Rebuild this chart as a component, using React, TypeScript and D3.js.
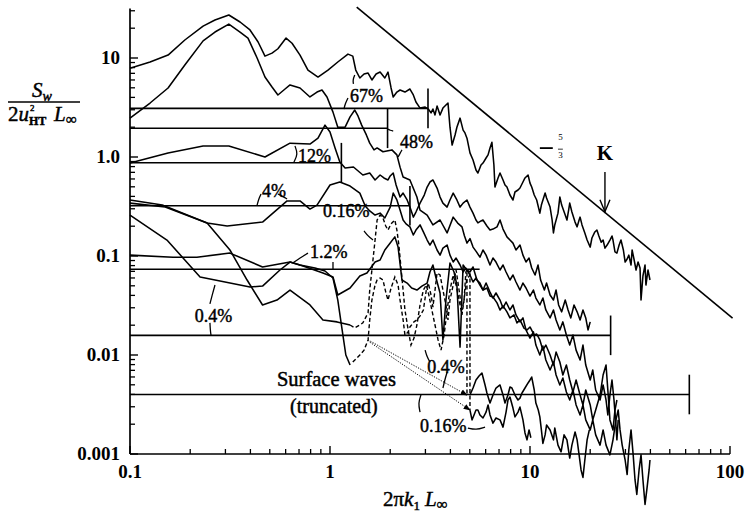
import React from "react";
import * as d3 from "d3";

type P = [number, number];

// ---------- axes ----------
const xTickValues = [0.1, 1, 10, 100];
const xTickLabels = ["0.1", "1", "10", "100"];
const yTickValues = [0.001, 0.01, 0.1, 1, 10];
const yTickLabels = ["0.001", "0.01", "0.1", "1.0", "10"];
const yAxisTop = 31.6;

// ---------- noise-level bars ----------
const levelValues = [3.1, 1.95, 0.876, 0.322, 0.0734, 0.0158, 0.00399];
const levelEnds = [3.09, 1.94, 1.14, 2.51, 5.6, 25.3, 62.6];
const levelHasBar = [true, true, true, true, false, true, true];

// ---------- spectra ----------
const spec67: P[] = [
  [0.1, 7.9], [0.126, 9.1], [0.155, 10.7], [0.188, 15.2], [0.232, 21.0], [0.266, 24.2], [0.312, 27.2],
  [0.355, 23.1], [0.398, 19.2], [0.437, 14.5], [0.473, 10.45], [0.513, 11.2], [0.549, 12.4], [0.603, 15.9],
  [0.646, 14.1], [0.708, 10.7], [0.776, 7.56], [0.871, 6.42], [0.977, 7.56], [1.094, 9.11], [1.23, 10.95],
  [1.30, 10.45], [1.345, 7.56], [1.41, 6.28], [1.48, 6.89], [1.55, 7.05], [1.62, 6.0], [1.70, 6.89],
  [1.78, 7.21], [1.88, 6.28], [1.95, 7.21], [2.02, 4.98], [2.07, 4.04], [2.16, 4.53], [2.24, 4.75],
  [2.37, 4.53], [2.51, 4.86], [2.61, 4.23], [2.69, 3.59], [2.82, 3.12], [2.99, 3.19], [3.10, 3.05],
  [3.20, 2.79], [3.27, 3.05], [3.35, 2.66], [3.43, 3.27], [3.55, 2.66], [3.67, 3.12], [3.80, 3.35],
  [3.89, 3.51], [3.98, 2.0], [4.08, 1.32], [4.22, 1.67], [4.31, 2.0], [4.47, 2.47], [4.63, 1.87],
  [4.73, 1.75], [4.84, 1.55], [5.01, 1.10], [5.19, 0.933], [5.37, 0.739], [5.49, 0.689], [5.69, 0.830],
  [5.82, 0.869], [6.03, 0.977], [6.17, 1.05], [6.31, 1.235], [6.45, 1.41], [6.60, 0.830], [6.68, 0.497],
  [6.92, 0.614], [7.08, 0.689], [7.33, 0.586], [7.50, 0.521], [7.67, 0.497], [7.94, 0.413], [8.22, 0.368],
  [8.41, 0.443], [8.71, 0.464], [8.91, 0.486], [9.22, 0.559], [9.44, 0.614], [9.78, 0.658], [10, 0.545],
  [10.2, 0.497], [10.5, 0.413], [10.8, 0.368], [11.2, 0.271], [11.4, 0.327], [11.9, 0.432], [12.1, 0.385],
  [12.6, 0.312], [12.9, 0.231], [13.1, 0.171], [13.3, 0.206], [13.8, 0.271], [14.1, 0.394], [14.4, 0.327],
  [15.0, 0.259], [15.3, 0.231], [15.6, 0.291], [15.8, 0.342], [16.2, 0.278], [16.8, 0.220], [17.2, 0.197],
  [17.6, 0.231], [17.8, 0.247], [18.2, 0.206], [18.8, 0.171], [19.3, 0.145], [20.0, 0.123], [20.4, 0.152],
  [21.1, 0.175], [21.6, 0.183], [22.1, 0.159], [22.7, 0.138], [23.2, 0.145], [23.7, 0.120], [24.3, 0.129],
  [25.1, 0.145], [25.7, 0.159], [26.0, 0.145], [26.6, 0.110], [27.2, 0.107], [27.9, 0.129], [28.5, 0.145],
  [29.3, 0.115], [29.9, 0.0869], [30.6, 0.0933], [31.2, 0.102], [32.0, 0.0811], [32.4, 0.115], [33.1, 0.0933],
  [33.9, 0.0722], [34.7, 0.0869], [35.5, 0.0756], [35.9, 0.0359], [36.7, 0.0628], [37.6, 0.0811],
  [38.0, 0.0509], [38.9, 0.0722], [39.8, 0.0572],
];

const spec48: P[] = [
  [0.1, 2.47], [0.126, 3.51], [0.155, 4.98], [0.188, 8.50], [0.232, 14.9], [0.266, 18.3], [0.312, 22.0],
  [0.355, 18.3], [0.389, 15.9], [0.432, 10.0], [0.473, 6.42], [0.513, 5.09], [0.549, 4.23], [0.596, 4.86],
  [0.631, 5.34], [0.708, 4.98], [0.794, 4.04], [0.861, 4.53], [0.912, 4.75], [0.966, 4.04], [1.035, 2.84],
  [1.094, 2.0], [1.19, 2.0], [1.26, 2.54], [1.33, 2.98], [1.38, 2.60], [1.44, 2.10], [1.52, 1.67],
  [1.58, 1.38], [1.66, 1.18], [1.72, 1.235], [1.84, 1.13], [2.04, 1.18], [2.16, 1.05], [2.24, 0.79],
  [2.32, 0.628], [2.51, 0.586], [2.72, 0.394], [2.82, 0.291], [3.06, 0.259], [3.27, 0.206], [3.55, 0.231],
  [3.85, 0.171], [4.13, 0.247], [4.35, 0.215], [4.57, 0.197], [4.70, 0.160], [4.84, 0.135], [5.01, 0.150],
  [5.19, 0.123], [5.40, 0.110], [5.62, 0.0973], [5.82, 0.115], [6.03, 0.102], [6.31, 0.0811], [6.53, 0.0954],
  [6.76, 0.0869], [7.08, 0.0722], [7.33, 0.0811], [7.59, 0.0689], [7.94, 0.0572], [8.22, 0.0643],
  [8.51, 0.0546], [8.91, 0.0453], [9.22, 0.0533], [9.55, 0.0475], [10, 0.0394], [10.4, 0.0453],
  [10.7, 0.0376], [11.2, 0.0320], [11.6, 0.0376], [12.0, 0.0285], [12.6, 0.0237], [13.1, 0.0285],
  [13.5, 0.0226], [14.1, 0.0179], [14.6, 0.0216], [15.2, 0.0159], [15.8, 0.0126], [16.4, 0.0159],
  [17.0, 0.0112], [17.8, 0.0089], [18.4, 0.0126], [19.0, 0.00792], [20.0, 0.00559], [20.6, 0.00705],
  [21.3, 0.00443], [22.4, 0.00351], [23.2, 0.00498], [24.0, 0.00351], [24.5, 0.00248], [25.1, 0.00394],
  [25.7, 0.00559], [26.3, 0.00351], [26.9, 0.00196], [27.2, 0.00139], [27.6, 0.00221],
];

const spec12: P[] = [
  [0.1, 0.869], [0.155, 1.10], [0.232, 1.29], [0.312, 1.29], [0.473, 1.0], [0.631, 1.38], [0.794, 1.35],
  [0.871, 1.55], [0.944, 2.10], [1, 1.79], [1.06, 1.235], [1.12, 0.89], [1.19, 0.774], [1.31, 0.793],
  [1.46, 0.658], [1.58, 0.689], [1.68, 0.586], [1.78, 0.658], [1.86, 0.614], [1.95, 0.586], [2.0, 0.643],
  [2.07, 0.689], [2.14, 0.521], [2.24, 0.394], [2.32, 0.432], [2.43, 0.368], [2.51, 0.312], [2.61, 0.247],
  [2.69, 0.278], [2.82, 0.342], [2.96, 0.413], [3.06, 0.497], [3.16, 0.559], [3.27, 0.586], [3.43, 0.486],
  [3.55, 0.394], [3.67, 0.342], [3.85, 0.312], [3.98, 0.368], [4.13, 0.432], [4.31, 0.368], [4.47, 0.312],
  [4.63, 0.342], [4.84, 0.368], [5.01, 0.312], [5.19, 0.271], [5.37, 0.231], [5.49, 0.216], [5.69, 0.226],
  [5.82, 0.231], [6.09, 0.201], [6.31, 0.183], [6.53, 0.187], [6.84, 0.197], [7.08, 0.231], [7.33, 0.187],
  [7.67, 0.156], [7.94, 0.145], [8.22, 0.135], [8.51, 0.115], [8.91, 0.129], [9.22, 0.102], [9.55, 0.0869],
  [9.89, 0.0954], [10.2, 0.0756], [10.6, 0.0643], [10.97, 0.0811], [11.3, 0.0572], [11.8, 0.0453],
  [12.1, 0.0533], [12.6, 0.0404], [13.1, 0.0359], [13.5, 0.0453], [13.9, 0.0320], [14.4, 0.0273],
  [15.0, 0.0359], [15.5, 0.0285], [16.0, 0.0237], [16.6, 0.0320], [17.2, 0.0273], [17.8, 0.0226],
  [18.4, 0.0285], [19.0, 0.0237], [19.5, 0.0179], [20.0, 0.0216],
];

const spec4: P[] = [
  [0.1, 0.368], [0.145, 0.327], [0.243, 0.215], [0.306, 0.201], [0.460, 0.220], [0.610, 0.360], [0.708, 0.360],
  [0.794, 0.298], [0.861, 0.327], [1, 0.521], [1.12, 0.559], [1.26, 0.509], [1.41, 0.432], [1.50, 0.320],
  [1.58, 0.285], [1.68, 0.259], [1.78, 0.271], [1.88, 0.242], [2.0, 0.312], [2.07, 0.432], [2.16, 0.368],
  [2.24, 0.291], [2.32, 0.231], [2.40, 0.211], [2.51, 0.197], [2.61, 0.163], [2.69, 0.183], [2.82, 0.206],
  [2.93, 0.175], [3.06, 0.145], [3.16, 0.129], [3.27, 0.145], [3.43, 0.115], [3.55, 0.102], [3.67, 0.120],
  [3.85, 0.129], [3.98, 0.102], [4.13, 0.0869], [4.27, 0.0954], [4.47, 0.0811], [4.63, 0.0689],
  [4.78, 0.0756], [5.01, 0.0643], [5.19, 0.0546], [5.37, 0.0599], [5.62, 0.0509], [5.82, 0.0453],
  [6.03, 0.0533], [6.31, 0.0432], [6.53, 0.0376], [6.76, 0.0423], [7.08, 0.0359], [7.33, 0.0298],
  [7.59, 0.0343], [7.94, 0.0285], [8.22, 0.0320], [8.51, 0.0254], [8.91, 0.0216], [9.22, 0.0237],
  [9.55, 0.0179], [10, 0.0148], [10.4, 0.0171], [10.7, 0.0126], [11.2, 0.0100], [11.6, 0.0123],
  [12.0, 0.0089], [12.6, 0.00705], [13.1, 0.0085], [13.5, 0.00628], [14.1, 0.00498], [14.6, 0.00585],
  [15.2, 0.00423], [15.8, 0.00351], [16.4, 0.00443], [17.0, 0.00313], [17.8, 0.00248], [18.4, 0.00313],
  [19.0, 0.00221], [20.0, 0.00175], [20.6, 0.00221], [21.3, 0.00156], [22.4, 0.00123], [23.2, 0.00175],
  [24.0, 0.00123], [25.1, 0.00098], [26.0, 0.00139], [26.9, 0.00221], [27.6, 0.00278], [28.2, 0.00175],
  [28.9, 0.00123], [29.9, 0.00087], [30.6, 0.00062], [31.2, 0.00110], [32.0, 0.00175], [32.8, 0.00098],
  [33.5, 0.00055], [34.2, 0.00039], [35.1, 0.00069], [35.9, 0.00098], [36.7, 0.00055], [37.6, 0.00031],
  [38.4, 0.00044], [39.4, 0.00069], [39.8, 0.00087],
];

const spec1p2: P[] = [
  [0.1, 0.102], [0.164, 0.0973], [0.216, 0.0973], [0.316, 0.107], [0.460, 0.0775], [0.631, 0.0869],
  [0.733, 0.0792], [0.922, 0.0674], [1.035, 0.0614], [1.094, 0.0404], [1.26, 0.0475], [1.41, 0.0628],
  [1.53, 0.0674], [1.68, 0.0869], [1.78, 0.0911], [1.88, 0.115], [2.0, 0.135], [2.11, 0.156], [2.19, 0.123],
  [2.29, 0.0572], [2.43, 0.0533], [2.56, 0.0475], [2.72, 0.0453], [2.88, 0.0497], [3.06, 0.0533],
  [3.16, 0.0689], [3.27, 0.0811], [3.39, 0.0599], [3.55, 0.0423], [3.67, 0.0142], [3.80, 0.0359],
  [3.98, 0.0849], [4.17, 0.0689], [4.31, 0.0509], [4.47, 0.0120], [4.63, 0.0811], [4.82, 0.0722],
  [5.01, 0.0689], [5.19, 0.0775], [5.43, 0.0572], [5.62, 0.0533], [5.82, 0.0453], [6.09, 0.0475],
  [6.31, 0.0394], [6.53, 0.0385], [6.84, 0.0336], [7.08, 0.0285], [7.33, 0.0313], [7.67, 0.0273],
  [7.94, 0.0237], [8.32, 0.0254], [8.61, 0.0211], [8.91, 0.0226], [9.33, 0.0187], [9.66, 0.0179],
  [10, 0.0192], [10.5, 0.0159], [10.8, 0.0163], [11.2, 0.0142], [11.6, 0.0112], [12.0, 0.0126],
  [12.6, 0.0100], [13.1, 0.00792], [13.5, 0.0107], [14.1, 0.0085], [14.6, 0.00628], [15.2, 0.00792],
  [15.8, 0.00559], [16.4, 0.00423], [17.0, 0.00559], [17.8, 0.00394], [18.4, 0.00313], [19.0, 0.00443],
  [20.0, 0.00313], [20.6, 0.00221], [21.3, 0.00278], [22.4, 0.00394], [23.2, 0.00628], [24.0, 0.00792],
  [24.5, 0.00443], [25.1, 0.00221], [26.0, 0.00175], [26.6, 0.00278], [27.2, 0.00351],
];

const spec0p4: P[] = [
  [0.1, 0.259], [0.153, 0.145], [0.224, 0.0614], [0.398, 0.0486], [0.460, 0.0497], [0.562, 0.0722],
  [0.631, 0.0869], [0.708, 0.0811], [0.841, 0.0756], [0.944, 0.0706], [1.035, 0.0599], [1.094, 0.0359],
  [1.15, 0.0179], [1.20, 0.0100], [1.26, 0.00792],
];
const spec0p4Dashed: P[] = [
  [1.30, 0.0085], [1.41, 0.0100], [1.48, 0.0112], [1.55, 0.0142], [1.58, 0.0226], [1.62, 0.0359],
  [1.68, 0.0509], [1.72, 0.0572], [1.78, 0.0599], [1.84, 0.0572], [1.90, 0.0432], [1.95, 0.0359],
  [2.02, 0.0475], [2.11, 0.0614], [2.19, 0.0509], [2.24, 0.0359], [2.32, 0.0226], [2.37, 0.0159],
  [2.46, 0.0171], [2.51, 0.0192], [2.63, 0.0216], [2.72, 0.0226], [2.82, 0.0248], [2.93, 0.0285],
  [3.03, 0.0453], [3.10, 0.0533], [3.20, 0.0404], [3.27, 0.0305], [3.35, 0.0453], [3.43, 0.0674],
  [3.55, 0.0643], [3.67, 0.0453], [3.80, 0.0320], [3.89, 0.0226], [3.98, 0.0359], [4.13, 0.0509],
  [4.27, 0.0722], [4.42, 0.0453], [4.57, 0.0285], [4.68, 0.0359], [4.78, 0.0689], [4.84, 0.0722],
  [4.84, 0.00394],
];
const spec0p4Tail: P[] = [
  [5.01, 0.00394], [5.19, 0.00464], [5.37, 0.00559], [5.56, 0.00613], [5.75, 0.00658], [5.96, 0.00498],
  [6.09, 0.00413], [6.31, 0.00327], [6.53, 0.00394], [6.76, 0.00464], [7.08, 0.00498], [7.33, 0.00394],
  [7.50, 0.00327], [7.76, 0.00394], [7.94, 0.00475], [8.12, 0.00464], [8.41, 0.00394], [8.71, 0.00351],
  [8.91, 0.00367], [9.12, 0.00413], [9.44, 0.00464], [9.78, 0.00522], [10, 0.00559], [10.2, 0.00599],
  [10.5, 0.00443], [10.7, 0.00327], [11.0, 0.00278], [11.2, 0.00237], [11.4, 0.00175], [11.6, 0.00128],
  [11.9, 0.00156], [12.1, 0.00196], [12.6, 0.00175], [13.1, 0.00139], [13.3, 0.00183], [13.8, 0.00123],
  [14.3, 0.00105], [14.8, 0.00156], [15.3, 0.00139], [15.8, 0.00091], [16.2, 0.00123], [16.8, 0.00167],
  [17.2, 0.00139], [17.6, 0.00098], [18.0, 0.00069], [18.4, 0.00058], [18.8, 0.00087], [19.3, 0.00139],
  [19.8, 0.00175],
];

const spec0p16: P[] = [
  [0.1, 0.342], [0.150, 0.312], [0.243, 0.215], [0.316, 0.115], [0.385, 0.0572], [0.460, 0.0320],
  [0.543, 0.0359], [0.631, 0.0453], [0.794, 0.0320], [0.922, 0.0226], [1.085, 0.0216], [1.26, 0.0201],
];
const spec0p16Dashed: P[] = [
  [1.26, 0.0201], [1.33, 0.0188], [1.41, 0.0201], [1.46, 0.0211], [1.55, 0.0266], [1.58, 0.0453],
  [1.62, 0.0722], [1.68, 0.145], [1.72, 0.231], [1.78, 0.259], [1.84, 0.242], [1.90, 0.201], [1.95, 0.183],
  [2.02, 0.211], [2.11, 0.231], [2.16, 0.183], [2.21, 0.129], [2.27, 0.0722], [2.32, 0.0453], [2.37, 0.0285],
  [2.46, 0.0179], [2.54, 0.0126], [2.63, 0.0148], [2.72, 0.0201], [2.82, 0.0320], [2.93, 0.0453],
  [3.03, 0.0509], [3.12, 0.0404], [3.23, 0.0285], [3.35, 0.0201], [3.47, 0.0142], [3.59, 0.0112],
  [3.72, 0.0159], [3.85, 0.0285], [3.98, 0.0453], [4.13, 0.0643], [4.27, 0.0509], [4.42, 0.0359],
  [4.57, 0.0254], [4.68, 0.0359], [4.82, 0.0572], [5.01, 0.0643], [5.01, 0.00278],
];
const spec0p16Tail: P[] = [
  [5.01, 0.00278], [5.13, 0.00221], [5.25, 0.00248], [5.37, 0.00278], [5.49, 0.00278], [5.62, 0.00248],
  [5.82, 0.00231], [6.03, 0.00265], [6.17, 0.00313], [6.31, 0.00248], [6.53, 0.00205], [6.76, 0.00231],
  [7.08, 0.00221], [7.33, 0.00187], [7.59, 0.00265], [7.76, 0.00351], [7.94, 0.00376], [8.22, 0.00291],
  [8.41, 0.00237], [8.71, 0.00265], [8.91, 0.00298], [9.22, 0.00221], [9.44, 0.00163], [9.66, 0.00139],
  [9.89, 0.00175], [10.1, 0.00146],
];

// surface-wave connectors (dotted)
const waveLinkUpper: P[] = [[1.55, 0.0142], [4.84, 0.00394]];
const waveLinkLower: P[] = [[1.58, 0.0135], [5.01, 0.00278]];

// -5/3 slope line
const slopeLine: P[] = [[1.36, 32.7], [103, 0.0236]];

// percentage labels
const labelTexts = ["67%", "48%", "12%", "4%", "0.16%", "1.2%", "0.4%", "0.4%", "0.16%"];
const labelX = [1.26, 2.24, 0.692, 0.457, 0.922, 0.794, 0.211, 3.06, 2.82];
const labelY = [3.59, 1.23, 0.89, 0.394, 0.247, 0.0954, 0.0216, 0.0066, 0.00167];

// label leader strokes
const leaders: P[][] = [
  [[1.175, 3.05], [1.19, 3.43], [1.23, 3.95]],
  [[1.31, 5.47], [1.30, 6.0], [1.33, 6.73]],
  [[1.95, 1.91], [2.0, 1.86], [2.07, 1.83]],
  [[2.29, 1.18], [2.24, 1.09], [2.19, 1.0]],
  [[0.668, 1.29], [0.692, 1.07], [0.660, 0.89]],
  [[0.432, 0.327], [0.442, 0.385], [0.452, 0.423]],
  [[0.549, 0.423], [0.58, 0.40], [0.610, 0.377]],
  [[1.48, 0.179], [1.55, 0.159], [1.64, 0.145]],
  [[0.776, 0.107], [0.708, 0.0954], [0.65, 0.0849]],
  [[1.035, 0.0869], [1.035, 0.0795], [1.035, 0.0722]],
  [[0.266, 0.0509], [0.26, 0.0432], [0.251, 0.0329]],
  [[0.251, 0.0211], [0.252, 0.018], [0.254, 0.0159]],
  [[2.99, 0.0112], [3.06, 0.0095], [3.16, 0.0085]],
  [[3.85, 0.0067], [3.75, 0.0056], [3.67, 0.00464]],
  [[2.85, 0.00394], [2.76, 0.00327], [2.82, 0.00265]],
  [[4.89, 0.00183], [5.37, 0.00175], [5.96, 0.00187]],
];

export default function App() {
  const x = d3.scaleLog().domain([0.1, 100]).range([130, 730]);
  const y = d3.scaleLog().domain([0.001, 10]).range([454, 58]);
  const line = d3.line<P>().x((d) => x(d[0])).y((d) => y(d[1]));
  const curvy = d3.line<P>().x((d) => x(d[0])).y((d) => y(d[1])).curve(d3.curveBasis);

  const xMinor: number[] = [];
  for (let e = -1; e < 2; e++) for (let k = 2; k <= 9; k++) xMinor.push(k * Math.pow(10, e));
  const yMinor: number[] = [];
  for (let e = -3; e <= 1; e++)
    for (let k = 2; k <= 9; k++) {
      const v = k * Math.pow(10, e);
      if (v <= yAxisTop) yMinor.push(v);
    }

  const serif = "'Liberation Serif', 'Times New Roman', serif";
  const solid = [spec67, spec48, spec12, spec4, spec1p2, spec0p4, spec0p4Tail, spec0p16, spec0p16Tail];
  const dashed = [spec0p4Dashed, spec0p16Dashed];
  const barHalf = Math.pow(10, 0.2);
  const ink = { stroke: "#000", strokeWidth: 0.45 };

  return (
    <svg width={745} height={516} style={{ position: "absolute", left: 0, top: 0, background: "#fff" }}
      fontFamily={serif}>
      <defs>
        <marker id="arr" viewBox="0 0 10 10" refX="9" refY="5" markerWidth="7" markerHeight="7" orient="auto">
          <path d="M0,1 L10,5 L0,9 Z" fill="#000" />
        </marker>
      </defs>
      <rect x={0} y={0} width={745} height={516} fill="#fff" />
      {/* axes */}
      <line x1={x(0.1)} x2={x(100)} y1={y(0.001)} y2={y(0.001)} stroke="#000" strokeWidth={1.7} />
      <line x1={x(0.1)} x2={x(0.1)} y1={y(0.001)} y2={y(yAxisTop)} stroke="#000" strokeWidth={1.7} />
      {xTickValues.map((v) => (
        <line key={"xM" + v} x1={x(v)} x2={x(v)} y1={y(0.001)} y2={y(0.001) - 8} stroke="#000" strokeWidth={1.4} />
      ))}
      {xMinor.map((v) => (
        <line key={"xm" + v} x1={x(v)} x2={x(v)} y1={y(0.001)} y2={y(0.001) - 5} stroke="#000" strokeWidth={1.3} />
      ))}
      {yTickValues.map((v) => (
        <line key={"yM" + v} x1={x(0.1)} x2={x(0.1) + 8} y1={y(v)} y2={y(v)} stroke="#000" strokeWidth={1.4} />
      ))}
      {yMinor.map((v) => (
        <line key={"ym" + v} x1={x(0.1)} x2={x(0.1) + 5} y1={y(v)} y2={y(v)} stroke="#000" strokeWidth={1.3} />
      ))}
      {xTickValues.map((v, i) => (
        <text key={"xl" + v} x={x(v)} y={y(0.001) + 24} textAnchor="middle" fontSize={19} fontWeight="bold">
          {xTickLabels[i]}
        </text>
      ))}
      {yTickValues.map((v, i) => (
        <text key={"yl" + v} x={x(0.1) - 10} y={y(v) + 6} textAnchor="end" fontSize={19} fontWeight="bold">
          {yTickLabels[i]}
        </text>
      ))}

      {/* noise-level bars */}
      {levelValues.map((v, i) => (
        <g key={"lv" + i}>
          <line x1={x(0.1)} x2={x(levelEnds[i])} y1={y(v)} y2={y(v)} stroke="#000" strokeWidth={1.6} />
          {levelHasBar[i] && (
            <line x1={x(levelEnds[i])} x2={x(levelEnds[i])} y1={y(v * barHalf)} y2={y(v / barHalf)}
              stroke="#000" strokeWidth={1.6} />
          )}
        </g>
      ))}

      {/* -5/3 line */}
      <path d={line(slopeLine) || ""} stroke="#000" strokeWidth={1.6} fill="none" />

      {/* spectra */}
      {solid.map((s, i) => (
        <path key={"s" + i} d={line(s) || ""} stroke="#000" strokeWidth={1.55} fill="none" strokeLinejoin="round" />
      ))}
      {dashed.map((s, i) => (
        <path key={"d" + i} d={line(s) || ""} stroke="#000" strokeWidth={1.4} fill="none" strokeDasharray="4 2.5" />
      ))}
      {[waveLinkUpper, waveLinkLower].map((s, i) => (
        <path key={"w" + i} d={line(s) || ""} stroke="#000" strokeWidth={1} fill="none" strokeDasharray="1.2 1.4"
          markerEnd="url(#arr)" />
      ))}

      {/* labels */}
      {labelTexts.map((t, i) => (
        <text key={"lab" + i} x={x(labelX[i])} y={y(labelY[i])} fontSize={18} {...ink}>
          {t}
        </text>
      ))}
      {leaders.map((s, i) => (
        <path key={"ld" + i} d={curvy(s) || ""} stroke="#000" strokeWidth={1.3} fill="none" />
      ))}
      <text x={x(0.543)} y={y(0.00487)} fontSize={20.5} {...ink}>Surface waves</text>
      <text x={x(0.631)} y={y(0.0026)} fontSize={20} {...ink}>(truncated)</text>

      {/* K arrow */}
      <text x={x(23.7)} y={y(0.933)} fontSize={21} fontWeight="bold" textAnchor="middle">K</text>
      <line x1={x(23.7)} x2={x(23.7)} y1={y(0.705)} y2={y(0.28)} stroke="#000" strokeWidth={1.4} />
      <path d={`M${x(23.7) - 5},${y(0.28) - 12} L${x(23.7)},${y(0.28)} L${x(23.7) + 5},${y(0.28) - 12}`}
        stroke="#000" strokeWidth={1.4} fill="none" />

      {/* -5/3 label */}
      <line x1={x(11.2)} x2={x(13.0)} y1={y(1.23)} y2={y(1.23)} stroke="#000" strokeWidth={1.8} />
      <text x={x(14.2)} y={y(1.48)} fontSize={9} textAnchor="middle">5</text>
      <line x1={x(13.8)} x2={x(14.6)} y1={y(1.2)} y2={y(1.2)} stroke="#000" strokeWidth={0.8} />
      <text x={x(14.2)} y={y(0.98)} fontSize={9} textAnchor="middle">3</text>

      {/* y-axis title */}
      <g fontSize={21} {...ink}>
        <text x={32} y={97} fontStyle="italic">S<tspan fontSize={14} dy={4}>w</tspan></text>
        <line x1={8} x2={80} y1={102} y2={102} stroke="#000" strokeWidth={1.4} />
        <text x={8} y={121}>
          2<tspan fontStyle="italic">u</tspan>
        </text>
        <text x={30} y={111} fontSize={9}>2</text>
        <text x={29} y={125} fontSize={12} fontWeight="bold">HT</text>
        <text x={54} y={121} fontStyle="italic">L</text>
        <text x={66} y={124} fontSize={15}>∞</text>
      </g>

      {/* x-axis title */}
      <text x={383} y={506} fontSize={21} {...ink}>
        2π<tspan fontStyle="italic">k</tspan>
        <tspan fontSize={13} dy={4}>1</tspan>
        <tspan dy={-4} dx={5} fontStyle="italic">L</tspan>
        <tspan fontSize={15} dy={3}>∞</tspan>
      </text>
    </svg>
  );
}
